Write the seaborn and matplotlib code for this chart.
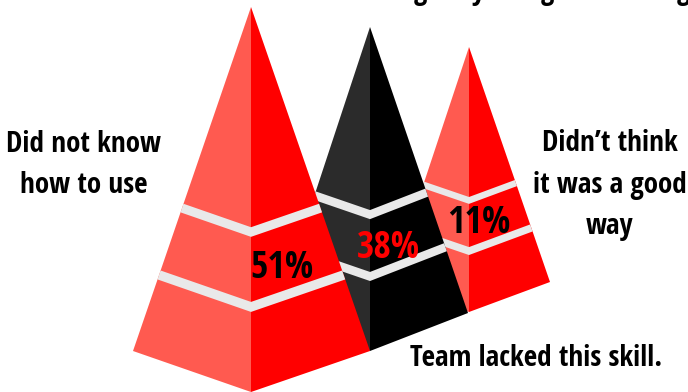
import matplotlib
matplotlib.use("Agg")
import matplotlib.pyplot as plt
import seaborn as sns

# Survey answers, drawn back to front so the tallest pyramid sits in front
percent = [11, 38, 51]
percent_colors = ["#000000", "#FF0000", "#000000"]
apex_x = [469, 370, 251]
apex_y = [47, 27, 7]
front_y = [312, 351, 392]
left_corner_x = [390, 274, 133]
left_corner_y = [285, 318, 351]
right_corner_x = [550, 468, 370]
right_corner_y = [282, 313, 351]
left_shades = ["#FF5A50", "#2B2B2B", "#FF5A50"]
right_shades = ["#FF0000", "#000000", "#FF0000"]

# Separator bands, as fractions of the distance from apex to base
band_tops = [[0.566, 0.755], [0.565, 0.756], [0.572, 0.766]]
band_bottoms = [[0.592, 0.785], [0.593, 0.784], [0.597, 0.792]]
band_color = "#E9E9E9"

percent_x = [479, 388, 282]
percent_y = [223, 248, 268]

captions = ["Did not know\nhow to use", "Didn\u2019t think\nit was a good\nway", "Team lacked this skill."]
caption_x = [84, 610, 536]
caption_y = [165, 185, 359]

heading_letters = ["g", "y", "g", "g"]
heading_x = [420, 478, 547, 683]

sns.set_theme(style="white")
plt.rcParams["font.family"] = ["Open Sans Condensed", "Open Sans", "DejaVu Sans"]
plt.rcParams["font.weight"] = "bold"

fig, ax = plt.subplots(figsize=(6.88, 3.92), dpi=100)
ax.set_position([0, 0, 1, 1])
ax.set_xlim(0, 688)
ax.set_ylim(392, 0)
ax.axis("off")


def along(p, q, t):
    return p + (q - p) * t


for i in range(len(percent)):
    ax_, ay = apex_x[i], apex_y[i]
    fx, fy = apex_x[i], front_y[i]
    lx, ly = left_corner_x[i], left_corner_y[i]
    rx, ry = right_corner_x[i], right_corner_y[i]
    z = 2 + i
    ax.fill([ax_, lx, fx], [ay, ly, fy], color=left_shades[i], lw=0, zorder=z)
    ax.fill([ax_, fx, rx], [ay, fy, ry], color=right_shades[i], lw=0, zorder=z)
    for t0, t1 in zip(band_tops[i], band_bottoms[i]):
        xs = [along(ax_, lx, t0), along(ax_, fx, t0), along(ax_, rx, t0),
              along(ax_, rx, t1), along(ax_, fx, t1), along(ax_, lx, t1)]
        ys = [along(ay, ly, t0), along(ay, fy, t0), along(ay, ry, t0),
              along(ay, ry, t1), along(ay, fy, t1), along(ay, ly, t1)]
        ax.fill(xs, ys, color=band_color, lw=0, zorder=z)

for i, value in enumerate(percent):
    ax.text(percent_x[i], percent_y[i], f"{value}%", color=percent_colors[i],
            fontsize=27, ha="center", va="center", zorder=10)

for text, x, y in zip(captions, caption_x, caption_y):
    ax.text(x, y, text, color="black", fontsize=21, ha="center", va="center",
            linespacing=1.58, zorder=10)

# The heading runs off the top edge, leaving only its descending letters
for letter, x in zip(heading_letters, heading_x):
    ax.text(x, -1, letter, color="black", fontsize=21, ha="center", va="baseline",
            clip_on=True, zorder=10)

fig.savefig("out.png", dpi=100)
